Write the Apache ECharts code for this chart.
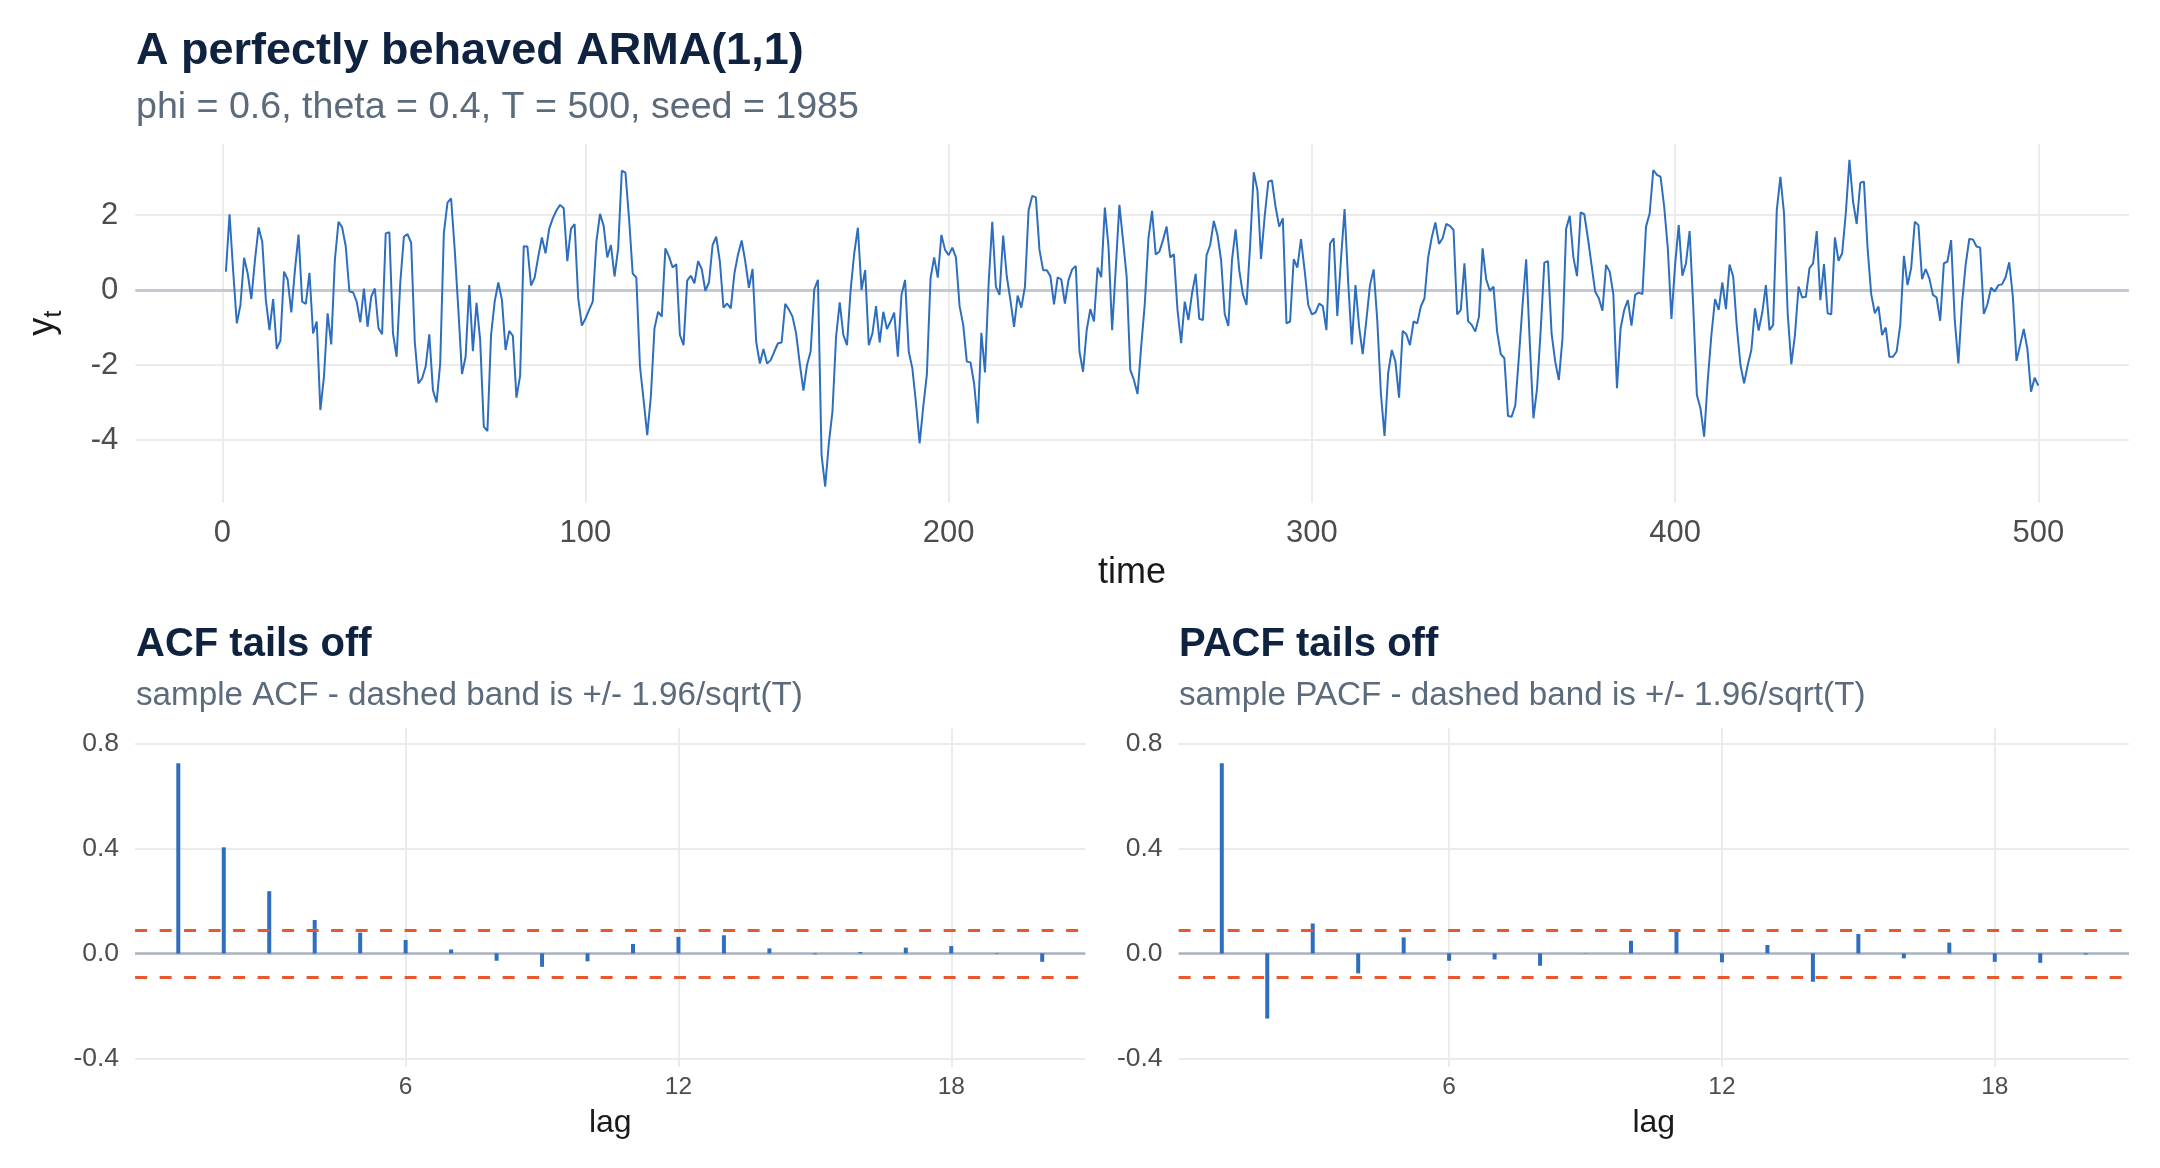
<!DOCTYPE html>
<html><head><meta charset="utf-8">
<script src="https://cdn.jsdelivr.net/npm/echarts@6/dist/echarts.min.js"></script>
<style>html,body{margin:0;padding:0;background:#fff}#c{width:2160px;height:1168px}</style>
</head><body><div id="c"></div>
<script>
// ---- data ----
const seriesY = [
 0.49, 2.02, 0.5, -0.89, -0.4, 0.86, 0.44, -0.24, 0.8, 1.67, 1.29, -0.27, -1.07, -0.24, -1.57, -1.35, 0.49, 0.28, -0.6, 0.53,
 1.48, -0.31, -0.37, 0.46, -1.16, -0.84, -3.2, -2.31, -0.62, -1.45, 0.8, 1.82, 1.67, 1.16, -0.04, -0.06, -0.31, -0.86, 0.04, -0.98,
 -0.18, 0.04, -1.02, -1.18, 1.51, 1.54, -1.16, -1.78, 0.18, 1.42, 1.49, 1.26, -1.38, -2.49, -2.36, -2.04, -1.18, -2.67, -3.0, -1.96,
 1.51, 2.33, 2.44, 1.07, -0.53, -2.24, -1.78, 0.13, -1.63, -0.34, -1.33, -3.64, -3.76, -1.2, -0.31, 0.2, -0.27, -1.6, -1.09, -1.22,
 -2.87, -2.29, 1.17, 1.16, 0.12, 0.33, 0.89, 1.4, 0.98, 1.63, 1.91, 2.12, 2.27, 2.18, 0.77, 1.63, 1.76, -0.22, -0.95, -0.76,
 -0.53, -0.31, 1.29, 2.03, 1.71, 0.87, 1.2, 0.36, 1.11, 3.18, 3.13, 1.9, 0.44, 0.33, -2.04, -2.93, -3.87, -2.84, -1.02, -0.58,
 -0.71, 1.11, 0.89, 0.6, 0.69, -1.2, -1.47, 0.25, 0.38, 0.18, 0.77, 0.56, -0.02, 0.2, 1.2, 1.42, 0.76, -0.47, -0.36, -0.49,
 0.44, 0.95, 1.32, 0.76, 0.06, 0.56, -1.38, -1.96, -1.57, -1.96, -1.87, -1.64, -1.42, -1.4, -0.37, -0.52, -0.71, -1.16, -1.96, -2.68,
 -2.0, -1.63, 0.02, 0.27, -4.4, -5.24, -4.09, -3.24, -1.24, -0.33, -1.2, -1.47, 0.0, 0.98, 1.66, 0.0, 0.53, -1.47, -1.16, -0.43,
 -1.4, -0.58, -1.04, -0.84, -0.6, -1.78, -0.13, 0.27, -1.64, -2.09, -3.02, -4.09, -3.11, -2.24, 0.31, 0.87, 0.33, 1.47, 1.07, 0.93,
 1.13, 0.87, -0.43, -0.93, -1.91, -1.93, -2.49, -3.56, -1.14, -2.2, 0.18, 1.82, 0.09, -0.13, 1.45, 0.36, -0.27, -0.98, -0.15, -0.47,
 0.09, 2.13, 2.51, 2.47, 1.07, 0.53, 0.53, 0.37, -0.38, 0.34, 0.28, -0.36, 0.27, 0.55, 0.64, -1.64, -2.18, -1.07, -0.51, -0.84,
 0.6, 0.34, 2.2, 1.16, -1.07, 0.58, 2.27, 1.33, 0.36, -2.13, -2.4, -2.77, -1.51, -0.36, 1.38, 2.11, 0.95, 1.02, 1.33, 1.69,
 0.87, 0.95, -0.53, -1.42, -0.31, -0.8, -0.09, 0.43, -0.77, -0.8, 0.93, 1.2, 1.84, 1.47, 0.8, -0.64, -0.96, 0.8, 1.62, 0.53,
 -0.11, -0.4, 1.2, 3.14, 2.67, 0.83, 1.96, 2.89, 2.92, 2.22, 1.69, 1.91, -0.89, -0.84, 0.82, 0.6, 1.36, 0.53, -0.4, -0.65,
 -0.6, -0.36, -0.43, -1.07, 1.24, 1.38, -0.69, 0.8, 2.16, 0.2, -1.45, 0.13, -0.98, -1.71, -0.8, 0.13, 0.55, -0.8, -2.76, -3.89,
 -2.22, -1.6, -1.91, -2.87, -1.09, -1.18, -1.47, -0.84, -0.89, -0.44, -0.22, 0.86, 1.4, 1.8, 1.23, 1.38, 1.76, 1.71, 1.6, -0.65,
 -0.53, 0.71, -0.83, -0.93, -1.11, -0.71, 1.11, 0.28, -0.02, 0.09, -1.11, -1.71, -1.82, -3.36, -3.38, -3.08, -1.78, -0.4, 0.82, -1.42,
 -3.42, -2.62, -1.07, 0.73, 0.77, -1.16, -1.91, -2.4, -1.29, 1.63, 1.98, 0.87, 0.37, 2.07, 2.02, 1.38, 0.67, -0.04, -0.22, -0.55,
 0.67, 0.49, -0.11, -2.62, -1.02, -0.53, -0.27, -0.95, -0.13, -0.07, -0.11, 1.69, 2.04, 3.2, 3.07, 3.02, 2.22, 1.11, -0.77, 0.67,
 1.73, 0.38, 0.71, 1.57, -0.44, -2.8, -3.16, -3.91, -2.4, -1.2, -0.24, -0.53, 0.2, -0.51, 0.68, 0.36, -0.98, -2.0, -2.49, -2.0,
 -1.6, -0.49, -1.08, -0.6, 0.13, -1.07, -0.93, 2.13, 3.02, 2.04, -0.62, -1.98, -1.2, 0.09, -0.2, -0.18, 0.58, 0.71, 1.57, -0.27,
 0.69, -0.62, -0.65, 1.4, 0.78, 0.98, 2.04, 3.47, 2.36, 1.76, 2.86, 2.89, 1.11, -0.11, -0.62, -0.44, -1.2, -1.0, -1.78, -1.78,
 -1.64, -0.93, 0.91, 0.13, 0.58, 1.82, 1.73, 0.29, 0.56, 0.31, -0.13, -0.2, -0.82, 0.71, 0.76, 1.33, -0.8, -1.96, -0.36, 0.67,
 1.36, 1.35, 1.16, 1.13, -0.64, -0.38, 0.06, -0.04, 0.13, 0.15, 0.34, 0.74, -0.18, -1.89, -1.47, -1.04, -1.57, -2.71, -2.34, -2.55
];
const lags = [1,2,3,4,5,6,7,8,9,10,11,12,13,14,15,16,17,18,19,20];
const acfValues = [0.724, 0.404, 0.237, 0.127, 0.079, 0.051, 0.015, -0.028, -0.051, -0.030,
                   0.036, 0.063, 0.069, 0.019, -0.003, 0.005, 0.022, 0.028, -0.002, -0.032];
const pacfValues = [0.724, -0.248, 0.114, -0.076, 0.061, -0.028, -0.023, -0.047, 0.001, 0.048,
                    0.085, -0.034, 0.032, -0.108, 0.074, -0.019, 0.041, -0.032, -0.036, -0.004];
const bandLimit = 0.0877;
const timeTicks = [0, 100, 200, 300, 400, 500];
const yTicks = [-4, -2, 0, 2];
const lagTicks = [6, 12, 18];
const corrTicks = [-0.4, 0, 0.4, 0.8];

// ---- styling ----
const FONT = '"Liberation Sans", Arial, Helvetica, sans-serif';
const BLUE = '#2e6ebe';
const GRID = '#ebebeb';
const ORANGE = '#e8582c';

const chart = echarts.init(document.getElementById('c'), null, {renderer: 'canvas'});

function refLines(xi, yi, xs, ys, style, z) {
  return {
    type: 'line', xAxisIndex: xi, yAxisIndex: yi, data: [], z: z, silent: true,
    markLine: {
      z: z, silent: true, symbol: ['none', 'none'], label: {show: false}, animation: false,
      lineStyle: style,
      emphasis: {disabled: true},
      data: xs.map(v => ({xAxis: v})).concat(ys.map(v => ({yAxis: v})))
    }
  };
}
const gridStyle = {color: GRID, width: 2, type: 'solid'};
const bandStyle = {color: ORANGE, width: 3, type: [12, 12.5]};

const tickLabel = (size, margin, vals, fmt) => ({
  show: true, customValues: vals, fontSize: size, color: '#4d4d4d', fontFamily: FONT,
  margin: margin, formatter: fmt, showMinLabel: true, showMaxLabel: true
});
const noLine = {show: false};

const lowerTop = 728.1, lowerH = 339.0, lowerW = 950.3;

const option = {
  animation: false,
  backgroundColor: '#ffffff',
  textStyle: {fontFamily: FONT},
  grid: [
    {left: 135.3, top: 143.75, width: 1993.6, height: 358.9},
    {left: 135.1, top: lowerTop, width: lowerW, height: lowerH},
    {left: 1178.6, top: lowerTop, width: lowerW, height: lowerH}
  ],
  xAxis: [
    {gridIndex: 0, type: 'value', min: -23.95, max: 524.95,
     axisLine: noLine, axisTick: noLine, splitLine: noLine,
     axisLabel: tickLabel(31, 15, timeTicks, v => String(v)),
     name: 'time', nameLocation: 'middle', nameGap: 52,
     nameTextStyle: {fontSize: 36, color: '#1a1a1a', fontFamily: FONT}},
    {gridIndex: 1, type: 'value', min: 0.05, max: 20.95,
     axisLine: noLine, axisTick: noLine, splitLine: noLine,
     axisLabel: tickLabel(24.5, 8, lagTicks, v => String(v)),
     name: 'lag', nameLocation: 'middle', nameGap: 40,
     nameTextStyle: {fontSize: 32, color: '#1a1a1a', fontFamily: FONT}},
    {gridIndex: 2, type: 'value', min: 0.05, max: 20.95,
     axisLine: noLine, axisTick: noLine, splitLine: noLine,
     axisLabel: tickLabel(24.5, 8, lagTicks, v => String(v)),
     name: 'lag', nameLocation: 'middle', nameGap: 40,
     nameTextStyle: {fontSize: 32, color: '#1a1a1a', fontFamily: FONT}}
  ],
  yAxis: [
    {gridIndex: 0, type: 'value', min: -5.67, max: 3.9,
     axisLine: noLine, axisTick: noLine, splitLine: noLine,
     axisLabel: tickLabel(31, 17, yTicks, v => String(v)),
     name: '{y|y}{t|t}', nameLocation: 'middle', nameGap: 70, nameRotate: 90,
     nameTextStyle: {fontFamily: FONT, color: '#1a1a1a',
       rich: {
         y: {fontSize: 36, lineHeight: 40, verticalAlign: 'top', color: '#1a1a1a', fontFamily: FONT},
         t: {fontSize: 26, lineHeight: 30, padding: [16, 0, 0, 0], verticalAlign: 'top', color: '#1a1a1a', fontFamily: FONT}
       }}},
    {gridIndex: 1, type: 'value', min: -0.433, max: 0.858,
     axisLine: noLine, axisTick: noLine, splitLine: noLine,
     axisLabel: tickLabel(26.5, 16, corrTicks, v => v.toFixed(1))},
    {gridIndex: 2, type: 'value', min: -0.433, max: 0.858,
     axisLine: noLine, axisTick: noLine, splitLine: noLine,
     axisLabel: tickLabel(26.5, 16, corrTicks, v => v.toFixed(1))}
  ],
  graphic: [
    {type: 'text', x: 136, y: 52, silent: true, style: {text: 'A perfectly behaved ARMA(1,1)', fontSize: 45, fontWeight: 'bold', fontFamily: FONT, fill: '#0f2341', verticalAlign: 'middle', align: 'left'}},
    {type: 'text', x: 136, y: 108, silent: true, style: {text: 'phi = 0.6, theta = 0.4, T = 500, seed = 1985', fontSize: 37.6, fontFamily: FONT, fill: '#5b6b7b', verticalAlign: 'middle', align: 'left'}},
    {type: 'text', x: 136, y: 645, silent: true, style: {text: 'ACF tails off', fontSize: 40, fontWeight: 'bold', fontFamily: FONT, fill: '#0f2341', verticalAlign: 'middle', align: 'left'}},
    {type: 'text', x: 136, y: 696, silent: true, style: {text: 'sample ACF - dashed band is +/- 1.96/sqrt(T)', fontSize: 33.2, fontFamily: FONT, fill: '#5b6b7b', verticalAlign: 'middle', align: 'left'}},
    {type: 'text', x: 1179, y: 645, silent: true, style: {text: 'PACF tails off', fontSize: 40, fontWeight: 'bold', fontFamily: FONT, fill: '#0f2341', verticalAlign: 'middle', align: 'left'}},
    {type: 'text', x: 1179, y: 696, silent: true, style: {text: 'sample PACF - dashed band is +/- 1.96/sqrt(T)', fontSize: 33.2, fontFamily: FONT, fill: '#5b6b7b', verticalAlign: 'middle', align: 'left'}}
  ],
  series: [
    refLines(0, 0, timeTicks, yTicks, gridStyle, 1),
    refLines(0, 0, [], [0], {color: '#c3cad2', width: 3, type: 'solid'}, 2),
    {type: 'line', xAxisIndex: 0, yAxisIndex: 0, z: 3, silent: true,
     data: seriesY.map((v, i) => [i + 1, v]),
     showSymbol: false, symbol: 'none',
     lineStyle: {color: BLUE, width: 2}},

    refLines(1, 1, lagTicks, corrTicks, gridStyle, 1),
    refLines(1, 1, [], [0], {color: '#a9b3c1', width: 2.5, type: 'solid'}, 2),
    {type: 'bar', xAxisIndex: 1, yAxisIndex: 1, z: 3, silent: true, barWidth: 4,
     data: lags.map((l, i) => [l, acfValues[i]]),
     itemStyle: {color: BLUE}},
    refLines(1, 1, [], [bandLimit, -bandLimit], bandStyle, 4),

    refLines(2, 2, lagTicks, corrTicks, gridStyle, 1),
    refLines(2, 2, [], [0], {color: '#a9b3c1', width: 2.5, type: 'solid'}, 2),
    {type: 'bar', xAxisIndex: 2, yAxisIndex: 2, z: 3, silent: true, barWidth: 4,
     data: lags.map((l, i) => [l, pacfValues[i]]),
     itemStyle: {color: BLUE}},
    refLines(2, 2, [], [bandLimit, -bandLimit], bandStyle, 4)
  ]
};
chart.setOption(option);
</script>
</body></html>
